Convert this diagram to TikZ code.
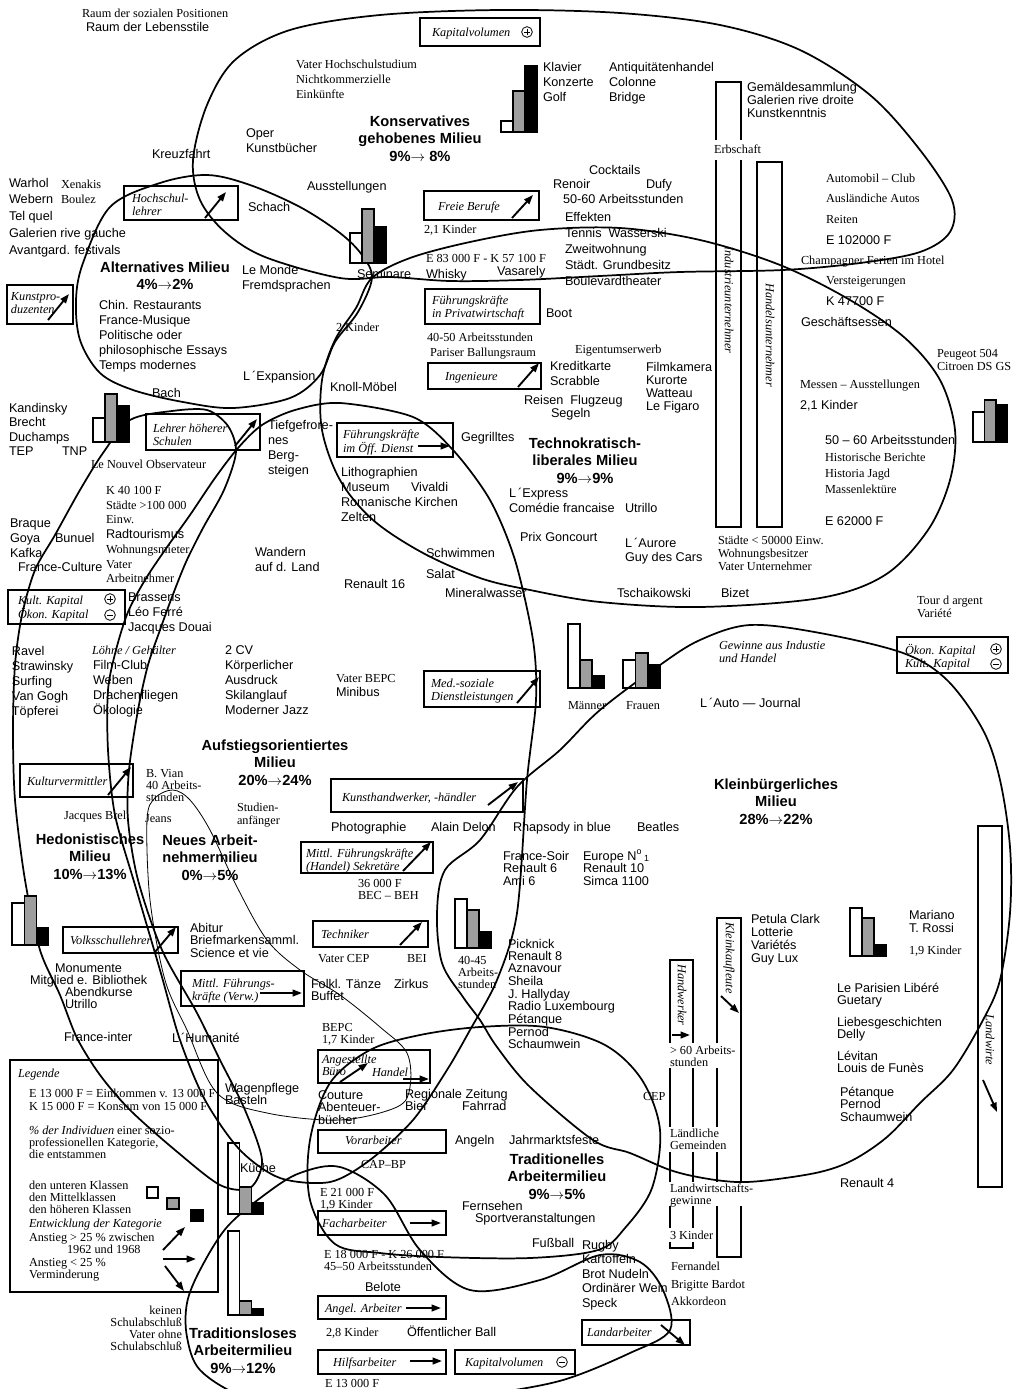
\documentclass[tikz,border=0pt]{standalone}
\usepackage{fontspec}
\newfontfamily\ssx{Liberation Sans}
\newfontfamily\rmx{Liberation Serif}
\usetikzlibrary{arrows.meta}
\newcount\tn
\newcommand\Tx[4]{\global\advance\tn by 1\relax
 \node[tx,#1] (t\the\tn) at (#2,#3) {\begin{tabular}[t]{@{}l@{}}#4\end{tabular}};}
\newcommand\Tc[4]{\global\advance\tn by 1\relax
 \node[tx,anchor=base,#1] (t\the\tn) at (#2,#3) {\begin{tabular}[t]{@{}c@{}}#4\end{tabular}};}
\newcommand\Tr[4]{\global\advance\tn by 1\relax
 \node[tx,anchor=base east,#1] (t\the\tn) at (#2,#3) {\begin{tabular}[t]{@{}r@{}}#4\end{tabular}};}
\newcommand\Bx[5]{\node[bx,minimum width={(#4-#2)*0.75pt},minimum height={(#5-#3)*0.75pt}] (#1) at ({(#2+#4)/2},{(#3+#5)/2}) {};}
\newcommand\Cs[3]{\global\advance\tn by 1\relax
 \node[circle,draw,line width=0.6pt,inner sep=0pt,minimum size=8pt] (c\the\tn) at (#1,#2) {};
 \draw[line width=0.6pt] ([xshift=-2.1pt]c\the\tn.center) -- ([xshift=2.1pt]c\the\tn.center);
 \ifx#3+\draw[line width=0.6pt] ([yshift=-2.1pt]c\the\tn.center) -- ([yshift=2.1pt]c\the\tn.center);\fi}
\newcommand\Bars[6]{\draw[bar] (#1,#2) rectangle ++(#3,-#4);
 \draw[bar,fill=black!38] ({#1+#3},#2) rectangle ++(#3,-#5);
 \draw[bar,fill=black] ({#1+2*#3},#2) rectangle ++(#3,-#6);}
\tikzset{
 tx/.style={inner sep=0pt,outer sep=0pt,anchor=base west,yshift=-3pt},
 S/.style={font=\ssx\fontsize{9.5}{11.25}\selectfont},
 S16/.style={font=\ssx\fontsize{9.5}{12}\selectfont},
 S14/.style={font=\ssx\fontsize{9.5}{10.9}\selectfont},
 S13/.style={font=\ssx\fontsize{9.5}{9.75}\selectfont},
 S12/.style={font=\ssx\fontsize{9.5}{9}\selectfont},
 S11/.style={font=\ssx\fontsize{9.5}{8.7}\selectfont},
 R/.style={font=\rmx\fontsize{9.2}{11.25}\selectfont},
 R13/.style={font=\rmx\fontsize{9.2}{9.75}\selectfont},
 R12/.style={font=\rmx\fontsize{9.2}{9}\selectfont},
 I/.style={font=\rmx\itshape\fontsize{9.2}{10}\selectfont},
 B/.style={font=\ssx\bfseries\fontsize{11}{13.3}\selectfont},
 bx/.style={draw,line width=1.1pt,inner sep=0pt},
 bar/.style={draw,line width=0.8pt},
 ar/.style={line width=1.4pt,-{Triangle[length=7pt,width=5pt]}},
 mil/.style={line width=1.3pt},
 thn/.style={line width=0.6pt},
 col/.style={line width=1.1pt},
}
\begin{document}
\begin{tikzpicture}[x=0.75pt,y=-0.75pt]
\useasboundingbox (0,0) rectangle (1013,1389);
\fill[white] (0,0) rectangle (1013,1389);
% ---------------- milieu outlines ----------------
% Konservatives gehobenes Milieu
\draw[mil] plot[smooth cycle,tension=0.55] coordinates {(340,278) (265,257) (225,232) (200,200) (193,160) (207,105) (235,60) (290,30) (380,15) (500,10) (620,13) (720,25) (800,50) (870,95) (920,150) (952,200) (950,232) (920,252) (860,263) (783,270) (680,272) (600,276) (520,280) (450,281) (390,277)};
% Alternatives Milieu
\draw[mil] plot[smooth cycle,tension=0.55] coordinates {(83,263) (110,207) (160,183) (207,175) (250,185) (300,207) (340,233) (362,255) (372,278) (358,312) (335,342) (320,375) (290,398) (233,408) (183,402) (133,390) (100,373) (80,340) (76,300)};
% Technokratisch-liberales Milieu
\draw[mil] plot[smooth cycle,tension=0.55] coordinates {(372,278) (410,258) (470,242) (540,230) (620,228) (700,240) (780,265) (850,300) (905,338) (940,380) (955,430) (950,480) (928,530) (885,575) (820,598) (700,607) (600,602) (530,590) (480,578) (423,553) (373,520) (340,480) (322,430) (322,380) (335,340) (356,308)};
% Aufstiegsorientiertes Milieu
\draw[mil] plot[smooth cycle,tension=0.5] coordinates {(340,403) (413,417) (453,450) (490,500) (515,560) (533,640) (536,700) (527,780) (517,913) (497,980) (470,1030) (447,1070) (413,1120) (370,1160) (330,1182) (280,1178) (240,1150) (205,1100) (180,1040) (160,970) (135,885) (115,815) (108,750) (108,690) (116,650) (128,612) (145,580) (165,550) (190,515) (215,478) (238,448) (262,425) (295,410)};
% Hedonistisches Milieu
\draw[mil] plot[smooth cycle,tension=0.5] coordinates {(130,420) (172,411) (207,410) (228,426) (236,452) (224,490) (203,528) (186,562) (172,597) (160,630) (148,665) (138,710) (129,770) (128,820) (138,880) (162,950) (197,1013) (220,1060) (245,1110) (262,1160) (250,1188) (220,1185) (175,1150) (130,1110) (100,1075) (77,1038) (60,995) (40,950) (25,880) (15,800) (13,730) (15,665) (22,615) (35,570) (55,535) (80,490) (103,453)};
% Kleinbuergerliches Milieu
\draw[mil] plot[smooth cycle,tension=0.55] coordinates {(660,665) (700,640) (750,625) (820,633) (903,653) (947,680) (983,730) (1000,780) (1010,847) (1010,913) (1000,980) (983,1020) (953,1070) (920,1103) (887,1137) (853,1160) (820,1172) (770,1180) (737,1182) (703,1178) (670,1170) (630,1153) (593,1140) (530,1087) (497,1047) (480,1020) (463,997) (442,963) (437,913) (445,870) (480,840) (517,787) (560,750) (600,710)};
% Traditionelles Arbeitermilieu
\draw[mil] plot[smooth cycle,tension=0.55] coordinates {(310,1140) (330,1083) (370,1050) (420,1035) (480,1027) (545,1027) (605,1045) (642,1080) (660,1130) (652,1188) (625,1228) (598,1250) (530,1258) (440,1257) (380,1253) (335,1244) (310,1200)};
% Traditionsloses Arbeitermilieu
\draw[mil] plot[smooth cycle,tension=0.55] coordinates {(670,1330) (630,1353) (563,1380) (490,1394) (420,1404) (300,1406) (242,1396) (200,1370) (187,1337) (187,1303) (200,1270) (227,1227) (267,1193) (300,1173) (340,1167) (385,1195) (420,1250) (470,1290) (540,1280) (600,1255) (640,1262) (663,1290)};
% Neues Arbeitnehmermilieu (thin)
\draw[thn] plot[smooth cycle,tension=0.55] coordinates {(147,820) (150,900) (165,980) (187,1030) (217,1093) (267,1113) (340,1120) (397,1107) (410,1087) (407,1053) (380,1027) (340,995) (300,970) (267,940) (237,887) (210,830) (190,800) (173,790) (155,798)};
% ---------------- columns ----------------
\draw[col] (716,140) -- (716,82) -- (741,82) -- (741,140);
\draw[col] (716,160) -- (716,527) -- (741,527) -- (741,160);
\draw[col] (757,162) rectangle (782,527);
\node[I,rotate=-90,inner sep=0pt] (iu) at (729,300) {Industrieunternehmer};
\node[I,rotate=-90,inner sep=0pt] (hu) at (770,335) {Handelsunternehmer};
\draw[col] (670,1043) -- (670,960) -- (693,960) -- (693,1043) (670,1068) -- (670,1127) (693,1068) -- (693,1127)
 (670,1152) -- (670,1182) (693,1152) -- (693,1182) (670,1206) -- (670,1228) (693,1206) -- (693,1228)
 (670,1242) -- (670,1248) -- (693,1248) -- (693,1242);
\draw[col] (717,1043) -- (717,918) -- (741,918) -- (741,1182) (717,1068) -- (717,1127) (717,1152) -- (717,1182)
 (717,1206) -- (717,1257) -- (741,1257) -- (741,1206);
\draw[col] (978,826) rectangle (1002,1187);
\node[I,rotate=-90,inner sep=0pt] (hw) at (682,995) {Handwerker};
\node[I,rotate=-90,inner sep=0pt] (kk) at (729,958) {Kleinkaufleute};
\node[I,rotate=-90,inner sep=0pt] (lw) at (990,1040) {Landwirte};
\draw[ar] (672,1035) -- (690,1035);
\draw[ar] (721,996) -- (739,1013);
\draw[ar] (983,1080) -- (997,1112);
% ---------------- bars ----------------
\Bars{501}{132}{12}{11}{41}{66}
\Bars{350}{263}{12}{30}{54}{36}
\Bars{93}{442}{12}{24}{48}{36}
\Bars{973}{442}{11.5}{30}{42}{37}
\Bars{568}{688}{12}{64}{28}{12}
\Bars{623}{688}{12.5}{28}{35}{23}
\Bars{12}{945}{12.3}{42}{49}{17}
\Bars{455}{948}{12}{49}{38}{16}
\Bars{850}{956}{12}{48}{38}{11}
\Bars{228}{1214}{11.7}{71}{27}{11}
\Bars{228}{1315}{11.7}{84}{14}{6}
% ---------------- boxes ----------------
\Bx{kv1}{420}{18}{540}{46}
\Tx{I}{432}{32}{Kapitalvolumen} \Cs{527}{32}{+}
\Bx{hsl}{124}{186}{238}{220}
\Tx{I}{132}{198}{Hochschul-\\lehrer} \draw[ar] (205,218) -- (226,192);
\Bx{fb}{424}{191}{539}{220}
\Tx{I}{438}{206}{Freie Berufe} \draw[ar] (512,218) -- (533,195);
\Bx{kp}{7}{285}{73}{324}
\Tx{I}{11}{296}{Kunstpro-\\duzenten} \draw[ar] (48,320) -- (69,294);
\Bx{fp}{425}{289}{540}{324}
\Tx{I}{432}{300}{Führungskräfte\\in Privatwirtschaft}
\Bx{ing}{428}{363}{541}{389}
\Tx{I}{445}{376}{Ingenieure} \draw[ar] (518,387) -- (539,363);
\Bx{lhs}{146}{414}{260}{450}
\Tx{I}{153}{428}{Lehrer höherer\\Schulen} \draw[ar] (235,446) -- (257,419);
\Bx{foe}{337}{423}{453}{457}
\Tx{I}{343}{434}{Führungskräfte\\im Öff. Dienst} \draw[ar] (418,446) -- (450,446);
\Bx{kk1}{8}{590}{125}{624}
\Tx{I}{18}{600}{Kult. Kapital\\Ökon. Kapital} \Cs{110}{599}{+} \Cs{110}{615}{-}
\Bx{med}{424}{671}{540}{707}
\Tx{I}{431}{683}{Med.-soziale\\Dienstleistungen} \draw[ar] (517,703) -- (539,677);
\Bx{ok}{897}{637}{1008}{673}
\Tx{I}{905}{650}{Ökon. Kapital\\Kult. Kapital} \Cs{996}{649}{+} \Cs{996}{664}{-}
\Bx{kv}{20}{764}{133}{797}
\Tx{I}{27}{781}{Kulturvermittler} \draw[ar] (108,795) -- (131,767);
\Bx{kh}{331}{779}{523}{812}
\Tx{I}{342}{797}{Kunsthandwerker, -händler} \draw[ar] (488,805) -- (518,782);
\Bx{mfh}{301}{842}{433}{873}
\Tx{I}{306}{853}{Mittl. Führungskräfte\\(Handel) Sekretäre} \draw[ar] (403,871) -- (431,842);
\Bx{vsl}{63}{927}{178}{953}
\Tx{I}{70}{940}{Volksschullehrer} \draw[ar] (155,952) -- (176,927);
\Bx{tec}{313}{921}{428}{947}
\Tx{I}{321}{934}{Techniker} \draw[ar] (400,945) -- (422,922);
\Bx{mfv}{181}{971}{304}{1006}
\Tx{I}{192}{983}{Mittl. Führungs-\\kräfte (Verw.)} \draw[ar] (260,993) -- (302,993);
\Bx{ang}{318}{1050}{430}{1083}
\Tx{I}{322}{1059}{Angestellte} \Tx{I}{322}{1071}{Büro} \Tx{I}{372}{1072}{Handel}
\draw[ar] (340,1082) -- (368,1063); \draw[ar] (403,1079) -- (429,1079);
\Bx{vor}{318}{1130}{446}{1153}
\Tx{I}{345}{1140}{Vorarbeiter}
\Bx{fach}{318}{1211}{446}{1235}
\Tx{I}{322}{1223}{Facharbeiter} \draw[ar] (410,1223) -- (441,1223);
\Bx{angel}{318}{1296}{446}{1319}
\Tx{I}{325}{1308}{Angel. Arbeiter} \draw[ar] (406,1308) -- (441,1308);
\Bx{hilf}{318}{1350}{446}{1374}
\Tx{I}{333}{1362}{Hilfsarbeiter} \draw[ar] (410,1361) -- (442,1361);
\Bx{kv2}{455}{1350}{575}{1374}
\Tx{I}{465}{1362}{Kapitalvolumen} \Cs{562}{1362}{-}
\Bx{land}{582}{1320}{690}{1345}
\Tx{I}{587}{1332}{Landarbeiter} \draw[ar] (661,1325) -- (685,1345);
% ---------------- legend ----------------
\Bx{leg}{10}{1060}{218}{1292}
\Tx{I}{18}{1073}{Legende}
\Tx{R13}{29}{1093}{E 13 000 F = Einkommen v. 13 000 F\\K 15 000 F = Konsum von 15 000 F}
\Tx{R12}{29}{1130}{{\itshape\% der Individuen} einer sozio-\\professionellen Kategorie,\\die entstammen}
\Tx{R12}{29}{1185}{den unteren Klassen\\den Mittelklassen\\den höheren Klassen}
\draw[bar] (147,1187) rectangle (158,1198);
\draw[bar,fill=black!38] (167,1198) rectangle (179,1209);
\draw[bar,fill=black] (191,1210) rectangle (203,1221);
\Tx{I}{29}{1223}{Entwicklung der Kategorie}
\Tx{R12}{29}{1237}{Anstieg > 25 \% zwischen}
\Tx{R12}{67}{1249}{1962 und 1968}
\Tx{R12}{29}{1262}{Anstieg < 25 \%\\Verminderung}
\draw[ar] (163,1250) -- (185,1227);
\draw[ar] (163,1259) -- (196,1259);
\draw[ar] (165,1266) -- (184,1291);
% ---------------- texts ----------------
\Tx{R}{82}{13}{Raum der sozialen Positionen}
\Tx{S}{86}{27}{Raum der Lebensstile}
\Tx{R}{296}{64}{Vater Hochschulstudium\\Nichtkommerzielle\\Einkünfte}
\Tx{S}{543}{67}{Klavier\\Konzerte\\Golf}
\Tx{S}{609}{67}{Antiquitätenhandel\\Colonne\\Bridge}
\Tc{B}{420}{122}{Konservatives\\gehobenes Milieu\\9\%$\rightarrow$ 8\%}
\Tx{S13}{747}{87}{Gemäldesammlung\\Galerien rive droite\\Kunstkenntnis}
\Tx{R}{714}{149}{Erbschaft}
\Tx{S}{246}{133}{Oper\\Kunstbücher}
\Tx{S}{152}{154}{Kreuzfahrt}
\Tx{S}{589}{170}{Cocktails}
\Tx{S}{553}{184}{Renoir} \Tx{S}{646}{184}{Dufy}
\Tx{S}{563}{199}{50-60 Arbeitsstunden}
\Tx{S16}{565}{217}{Effekten\\Tennis\ \ Wasserski\\Zweitwohnung\\Städt. Grundbesitz\\Boulevardtheater}
\Tx{S}{307}{186}{Ausstellungen}
\Tx{S}{9}{183}{Warhol} \Tx{R}{61}{184}{Xenakis}
\Tx{S}{9}{199}{Webern} \Tx{R}{61}{199}{Boulez}
\Tx{S}{9}{216}{Tel quel}
\Tx{S}{9}{233}{Galerien rive gauche}
\Tx{S}{9}{250}{Avantgard. festivals}
\Tx{R}{826}{178}{Automobil – Club}
\Tx{R}{826}{198}{Ausländiche Autos}
\Tx{R}{826}{219}{Reiten}
\Tx{S}{826}{240}{E 102000 F}
\Tx{R}{801}{260}{Champagner Ferien im Hotel}
\Tx{R}{826}{280}{Versteigerungen}
\Tx{S}{826}{301}{K 47700 F}
\Tx{S}{801}{322}{Geschäftsessen}
\Tx{S}{248}{207}{Schach}
\Tx{R}{424}{229}{2,1 Kinder}
\Tx{R}{426}{258}{E 83 000 F - K 57 100 F}
\Tx{S}{357}{274}{Seminare} \Tx{S}{426}{274}{Whisky} \Tx{S}{497}{271}{Vasarely}
\Tc{B}{165}{268}{Alternatives Milieu\\4\%$\rightarrow$2\%}
\Tx{S}{242}{270}{Le Monde\\Fremdsprachen}
\Tx{S}{99}{305}{Chin. Restaurants\\France-Musique\\Politische oder\\philosophische Essays\\Temps modernes}
\Tx{R}{336}{327}{2 Kinder}
\Tx{S}{546}{313}{Boot}
\Tx{R}{427}{337}{40-50 Arbeitsstunden}
\Tx{R}{430}{352}{Pariser Ballungsraum}
\Tx{R}{575}{349}{Eigentumserwerb}
\Tx{S}{550}{366}{Kreditkarte\\Scrabble}
\Tx{S13}{646}{367}{Filmkamera\\Kurorte\\Watteau\\Le Figaro}
\Tx{S}{524}{400}{Reisen\ \ Flugzeug} \Tx{S}{551}{413}{Segeln}
\Tx{S}{243}{376}{L\,´Expansion}
\Tx{S}{330}{387}{Knoll-Möbel}
\Tx{S}{152}{393}{Bach}
\Tx{S14}{9}{408}{Kandinsky\\Brecht\\Duchamps\\TEP} \Tx{S}{62}{451}{TNP}
\Tx{S}{268}{425}{Tiefgefrore-\\nes\\Berg-\\steigen}
\Tx{R}{91}{464}{Le Nouvel Observateur}
\Tx{S}{461}{437}{Gegrilltes}
\Tc{B}{585}{444}{Technokratisch-\\liberales Milieu\\9\%$\rightarrow$9\%}
\Tx{S}{341}{472}{Lithographien\\Museum\\Romanische Kirchen\\Zelten} \Tx{S}{411}{487}{Vivaldi}
\Tx{S}{509}{493}{L\,´Express\\Comédie francaise} \Tx{S}{625}{508}{Utrillo}
\Tx{R}{106}{490}{K 40 100 F} \Tx{R}{106}{505}{Städte >100 000} \Tx{R}{106}{519}{Einw.}
\Tx{S}{106}{534}{Radtourismus} \Tx{R}{106}{549}{Wohnungsmieter} \Tx{R}{106}{564}{Vater} \Tx{R}{106}{578}{Arbeitnehmer}
\Tx{S}{10}{523}{Braque\\Goya\\Kafka} \Tx{S}{55}{538}{Bunuel} \Tx{S}{18}{567}{France-Culture}
\Tx{S}{520}{537}{Prix Goncourt}
\Tx{S14}{625}{543}{L\,´Aurore\\Guy des Cars}
\Tx{S}{255}{552}{Wandern\\auf d. Land}
\Tx{S}{426}{553}{Schwimmen} \Tx{S}{426}{574}{Salat} \Tx{S}{445}{593}{Mineralwasser}
\Tx{S}{344}{584}{Renault 16} \Tx{S}{617}{593}{Tschaikowski} \Tx{S}{721}{593}{Bizet}
\Tx{S}{128}{597}{Brassens\\Léo Ferré\\Jacques Douai}
\Tx{R13}{718}{540}{Städte < 50000 Einw.\\Wohnungsbesitzer\\Vater Unternehmer}
\Tx{R}{800}{384}{Messen – Ausstellungen} \Tx{S}{800}{405}{2,1 Kinder}
\Tx{S}{825}{440}{50 – 60 Arbeitsstunden}
\Tx{R}{825}{457}{Historische Berichte} \Tx{R}{825}{473}{Historia Jagd} \Tx{R}{825}{489}{Massenlektüre}
\Tx{S}{825}{521}{E 62000 F}
\Tx{R13}{937}{353}{Peugeot 504\\Citroen DS GS}
\Tx{R13}{917}{600}{Tour d argent\\Variété}
\Tx{R}{568}{705}{Männer} \Tx{R}{626}{705}{Frauen}
\Tx{R}{336}{678}{Vater BEPC} \Tx{S}{336}{692}{Minibus}
\Tx{S}{225}{650}{2 CV\\Körperlicher\\Ausdruck\\Skilanglauf\\Moderner Jazz}
\Tx{S}{12}{651}{Ravel\\Strawinsky\\Surfing\\Van Gogh\\Töpferei}
\Tx{I}{92}{650}{Löhne / Gehälter}
\Tx{S}{93}{665}{Film-Club\\Weben\\Drachenfliegen\\Ökologie}
\Tx{I}{719}{645}{Gewinne aus Industie\\und Handel}
\Tx{S}{700}{703}{L\,´Auto — Journal}
\Tc{B}{275}{746}{Aufstiegsorientiertes\\Milieu\\20\%$\rightarrow$24\%}
\Tx{R12}{146}{773}{B. Vian\\40 Arbeits-\\stunden}
\Tx{R13}{237}{807}{Studien-\\anfänger}
\Tx{R}{64}{815}{Jacques Brel} \Tx{R}{145}{818}{Jeans}
\Tx{S}{331}{827}{Photographie} \Tx{S}{431}{827}{Alain Delon} \Tx{S}{513}{827}{Rhapsody in blue} \Tx{S}{637}{827}{Beatles}
\Tc{B}{90}{840}{Hedonistisches\\Milieu\\10\%$\rightarrow$13\%}
\Tc{B}{210}{841}{Neues Arbeit-\\nehmermilieu\\0\%$\rightarrow$5\%}
\Tx{R12}{358}{883}{36 000 F\\BEC – BEH}
\Tx{S11}{503}{856}{France-Soir\\Renault 6\\Ami 6}
\Tx{S11}{583}{856}{Europe N\textsuperscript{o}\,\textsubscript{1}\\Renault 10\\Simca 1100}
\Tx{S12}{190}{928}{Abitur\\Briefmarkensamml.\\Science et vie}
\Tx{S12}{55}{968}{Monumente} \Tx{S12}{30}{980}{Mitglied e. Bibliothek} \Tx{S12}{65}{992}{Abendkurse\\Utrillo}
\Tx{R}{318}{958}{Vater CEP} \Tx{R}{407}{958}{BEI}
\Tx{R12}{458}{960}{40-45\\Arbeits-\\stunden}
\Tx{S11}{508}{944}{Picknick\\Renault 8\\Aznavour\\Sheila\\J. Hallyday\\Radio Luxembourg\\Pétanque\\Pernod\\Schaumwein}
\Tx{S12}{311}{984}{Folkl. Tänze\\Buffet} \Tx{S12}{394}{984}{Zirkus}
\Tx{S}{64}{1037}{France-inter} \Tx{S}{172}{1038}{L\,´Humanité}
\Tx{R12}{322}{1027}{BEPC\\1,7 Kinder}
\Tx{S12}{225}{1088}{Wagenpflege\\Basteln}
\Tx{S12}{318}{1095}{Couture\\Abenteuer-\\bücher}
\Tx{S12}{405}{1094}{Regionale Zeitung\\Bier} \Tx{S12}{462}{1106}{Fahrrad}
\Tx{S}{455}{1140}{Angeln} \Tx{S}{509}{1140}{Jahrmarktsfeste}
\Tx{R}{361}{1164}{CAP–BP}
\Tc{B}{557}{1160}{Traditionelles\\Arbeitermilieu\\9\%$\rightarrow$5\%}
\Tx{S}{240}{1168}{Küche}
\Tx{R12}{320}{1192}{E 21 000 F\\1,9 Kinder}
\Tx{S12}{462}{1206}{Fernsehen} \Tx{S12}{475}{1218}{Sportveranstaltungen}
\Tx{S}{532}{1243}{Fußball}
\Tx{S14}{582}{1245}{Rugby\\Kartoffeln\\Brot Nudeln\\Ordinärer Wein\\Speck}
\Tx{R12}{324}{1254}{E 18 000 F - K 26 000 F\\45–50 Arbeitsstunden}
\Tx{S}{365}{1287}{Belote}
\Tx{R}{326}{1332}{2,8 Kinder} \Tx{S}{407}{1332}{Öffentlicher Ball}
\Tx{R}{325}{1383}{E 13 000 F}
\Tr{R12}{182}{1310}{keinen\\Schulabschluß\\Vater ohne\\Schulabschluß}
\Tc{B}{243}{1334}{Traditionsloses\\Arbeitermilieu\\9\%$\rightarrow$12\%}
\Tx{R}{671}{1266}{Fernandel} \Tx{R}{671}{1284}{Brigitte Bardot} \Tx{R}{671}{1301}{Akkordeon}
\Tx{S}{840}{1183}{Renault 4}
\Tx{R}{643}{1096}{CEP}
\Tx{R12}{670}{1050}{> 60 Arbeits-\\stunden}
\Tx{R12}{670}{1133}{Ländliche\\Gemeinden}
\Tx{R12}{670}{1188}{Landwirtschafts-\\gewinne}
\Tx{R}{670}{1235}{3 Kinder}
\Tx{S13}{751}{919}{Petula Clark\\Lotterie\\Variétés\\Guy Lux}
\Tx{S13}{909}{915}{Mariano\\T. Rossi} \Tx{R}{909}{950}{1,9 Kinder}
\Tx{S12}{837}{988}{Le Parisien Libéré\\Guetary}
\Tx{S12}{837}{1022}{Liebesgeschichten\\Delly}
\Tx{S12}{837}{1056}{Lévitan\\Louis de Funès}
\Tx{S12}{840}{1092}{Pétanque\\Pernod\\Schaumwein}
\Tc{B}{776}{785}{Kleinbürgerliches\\Milieu\\28\%$\rightarrow$22\%}
\end{tikzpicture}
\end{document}
